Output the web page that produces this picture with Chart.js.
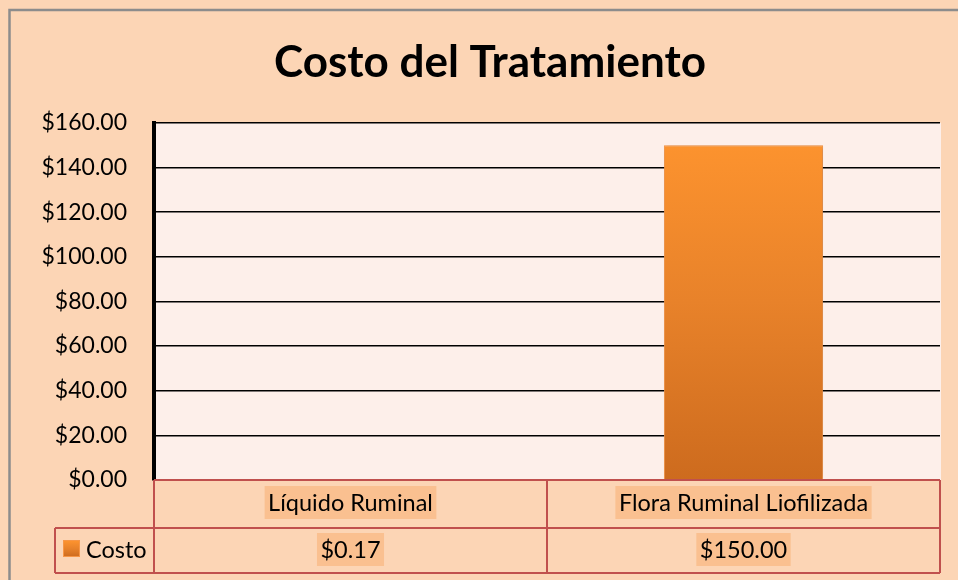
<!DOCTYPE html>
<html lang="es">
<head>
    <meta charset="UTF-8">
    <title>Costo del Tratamiento</title>
    <script src="https://cdn.jsdelivr.net/npm/chart.js"></script>
    <style>
        html, body { margin: 0; padding: 0; background: #FCD5B5; }
        .chart-container { width: 958px; height: 580px; }
    </style>
</head>
<body>
    <div class="chart-container">
        <canvas id="costChart" width="958" height="580"></canvas>
    </div>

    <script>
        const categories = ["Líquido Ruminal", "Flora Ruminal Liofilizada"];
        const costo = [0.17, 150.00];
        const seriesName = "Costo";
        const yMin = 0;
        const yMax = 160;
        const yStep = 20;

        const FONT = "Lato, 'Open Sans', sans-serif";
        const money = v => "$" + v.toFixed(2);

        function barGradient(ctx, area) {
            const g = ctx.createLinearGradient(0, area.top, 0, area.bottom);
            g.addColorStop(0, "#FF952F");
            g.addColorStop(0.5, "#E8822A");
            g.addColorStop(1, "#CD6B1E");
            return g;
        }

        // background, outer frame and plot area fill
        const backdrop = {
            id: "backdrop",
            beforeDraw(chart) {
                const { ctx, chartArea: a } = chart;
                ctx.save();
                ctx.fillStyle = "#FCD5B5";
                ctx.fillRect(0, 0, chart.width, chart.height);
                ctx.strokeStyle = "#8C8C8C";
                ctx.lineWidth = 2.5;
                ctx.beginPath();
                ctx.moveTo(9.5, chart.height);
                ctx.lineTo(9.5, 10);
                ctx.lineTo(chart.width, 10);
                ctx.stroke();
                ctx.fillStyle = "#FDEFEA";
                ctx.fillRect(a.left, a.top, a.right - a.left + 1, a.bottom - a.top);
                ctx.restore();
            },
            beforeDatasetsDraw(chart) {
                chart.ctx.save();
                chart.ctx.shadowColor = "rgba(0,0,0,0.22)";
                chart.ctx.shadowBlur = 5;
                chart.ctx.shadowOffsetX = 1;
                chart.ctx.shadowOffsetY = 1;
            },
            afterDatasetsDraw(chart) {
                chart.ctx.restore();
            }
        };

        // data table under the plot (categories row + values row with legend key)
        const dataTable = {
            id: "dataTable",
            afterDraw(chart) {
                const { ctx, chartArea: a } = chart;
                const x = chart.scales.x;
                const half = (a.right - a.left) / categories.length / 2;
                const top = a.bottom;
                const mid = top + 48;
                const bot = top + 93;
                const legendLeft = 55;

                ctx.save();
                ctx.font = "23.5px " + FONT;
                ctx.textAlign = "center";
                ctx.textBaseline = "middle";

                function highlighted(text, cx, cy) {
                    const w = ctx.measureText(text).width;
                    ctx.fillStyle = "#FAC090";
                    ctx.fillRect(cx - w / 2 - 3.5, cy - 16.5, w + 7, 33);
                    ctx.fillStyle = "#000";
                    ctx.fillText(text, cx, cy + 1);
                }

                categories.forEach((c, i) => {
                    const cx = x.getPixelForValue(i);
                    highlighted(c, cx, (top + mid) / 2 - 1.5);
                    highlighted(money(costo[i]), cx, (mid + bot) / 2 - 1);
                });

                // legend key
                ctx.fillStyle = barGradient(ctx, { top: 540, bottom: 557 });
                ctx.fillRect(63, 540, 17, 17);
                ctx.strokeStyle = "#F79646";
                ctx.lineWidth = 1;
                ctx.strokeRect(63.5, 540.5, 16, 16);
                ctx.fillStyle = "#000";
                ctx.textAlign = "left";
                ctx.fillText(seriesName, 86, (mid + bot) / 2);

                // grid of the table
                ctx.strokeStyle = "#C0504D";
                ctx.lineWidth = 2;
                ctx.beginPath();
                ctx.moveTo(a.left, top); ctx.lineTo(a.right, top);
                ctx.moveTo(legendLeft, mid); ctx.lineTo(a.right, mid);
                ctx.moveTo(legendLeft, bot); ctx.lineTo(a.right, bot);
                ctx.moveTo(legendLeft, mid); ctx.lineTo(legendLeft, bot);
                for (let i = 0; i <= categories.length; i++) {
                    const px = a.left + i * 2 * half;
                    ctx.moveTo(px, top); ctx.lineTo(px, bot);
                }
                ctx.stroke();
                ctx.restore();
            }
        };

        const ctx = document.getElementById("costChart").getContext("2d");
        const costChart = new Chart(ctx, {
            type: "bar",
            data: {
                labels: categories,
                datasets: [{
                    label: seriesName,
                    data: costo,
                    backgroundColor: c => c.chart.chartArea ? barGradient(c.chart.ctx, c.chart.chartArea) : "#F08A2B",
                    borderColor: "#F79646",
                    borderWidth: 1,
                    barPercentage: 0.405,
                    categoryPercentage: 1
                }]
            },
            options: {
                responsive: false,
                animation: false,
                layout: { padding: { left: 40, right: 18, top: 0, bottom: 100 } },
                plugins: {
                    legend: { display: false },
                    tooltip: { enabled: false },
                    title: {
                        display: true,
                        text: "Costo del Tratamiento",
                        color: "#000",
                        font: { family: FONT, size: 44, weight: "bold" },
                        padding: { top: 36, bottom: 34 }
                    }
                },
                scales: {
                    x: { display: false },
                    y: {
                        min: yMin,
                        max: yMax,
                        afterFit: s => { s.width = 114; },
                        border: { display: true, color: "#000", width: 4 },
                        grid: { color: "#000", lineWidth: 1.5, drawTicks: false },
                        ticks: {
                            stepSize: yStep,
                            color: "#000",
                            padding: 27,
                            font: { family: FONT, size: 23 },
                            callback: v => money(v)
                        }
                    }
                }
            },
            plugins: [backdrop, dataTable]
        });
    </script>
</body>
</html>
